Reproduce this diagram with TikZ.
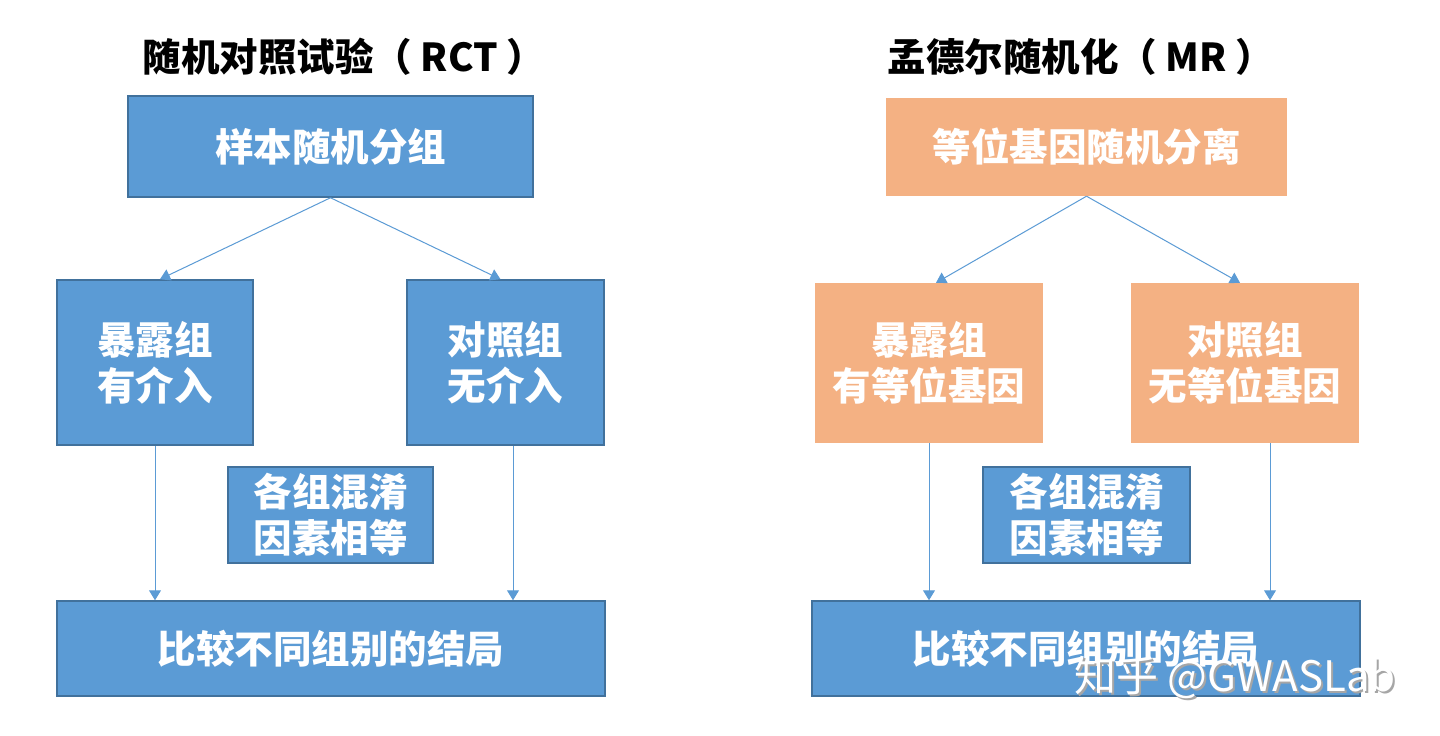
\documentclass[tikz,border=0pt]{standalone}
\usepackage{fontspec}
\newfontfamily\cjk{Noto Sans CJK SC}
\usetikzlibrary{arrows.meta,calc}

\definecolor{boxblue}{HTML}{5B9BD5}
\definecolor{edgeblue}{HTML}{41719C}
\definecolor{boxorange}{HTML}{F4B183}
\definecolor{arrowblue}{HTML}{5B9BD5}

\tikzset{
  boxtext/.style={text=white, align=center, inner sep=0pt,
    font=\cjk\bfseries\fontsize{38.5}{46}\selectfont},
  bluebox/.style={boxtext, draw=edgeblue, line width=1.5pt, fill=boxblue},
  orangebox/.style={boxtext, fill=boxorange},
  heading/.style={font=\cjk\bfseries\fontsize{38.5}{46}\selectfont, text=black},
  arr/.style={draw=arrowblue, line width=1pt, -{Triangle[width=12pt,length=10pt]}},
}

\begin{document}
\begin{tikzpicture}[x=1pt,y=-1pt]
\fill[white] (0,0) rectangle (1440,736);
\useasboundingbox (0,0) rectangle (1440,736);

% left: randomised controlled trial
\node[heading] (rcttitle) at (344,57) {随机对照试验（ RCT ）};
\node[bluebox, minimum width=405pt, minimum height=101pt] (sample) at (330.5,146.5) {样本随机分组};
\node[bluebox, minimum width=196pt, minimum height=165pt] (expo) at (155,362.5) {暴露组\\有介入};
\node[bluebox, minimum width=197pt, minimum height=165pt] (ctrl) at (505.5,362.5) {对照组\\无介入};
\node[bluebox, minimum width=205pt, minimum height=96pt] (conf) at (330.5,515) {各组混淆\\因素相等};
\node[bluebox, minimum width=548pt, minimum height=95pt] (result) at (331,648.5) {比较不同组别的结局};

\draw[arr] (sample.south) -- ([xshift=5pt]expo.north);
\draw[arr] (sample.south) -- ([xshift=-5pt]ctrl.north);
\draw[arr] (expo.south) -- (expo.south |- result.north);
\draw[arr] ([xshift=7.5pt]ctrl.south) -- ([xshift=7.5pt]ctrl.south |- result.north);

% right: mendelian randomisation
\node[heading] (mrtitle) at (1081,57) {孟德尔随机化（ MR ）};
\node[orangebox, minimum width=401pt, minimum height=98pt] (allele) at (1086.5,147) {等位基因随机分离};
\node[orangebox, minimum width=228pt, minimum height=160pt] (mrexpo) at (929,363) {暴露组\\有等位基因};
\node[orangebox, minimum width=228pt, minimum height=160pt] (mrctrl) at (1245,363) {对照组\\无等位基因};
\node[bluebox, minimum width=207pt, minimum height=96pt] (mrconf) at (1086.5,515) {各组混淆\\因素相等};
\node[bluebox, minimum width=548pt, minimum height=95pt] (mrresult) at (1086,648.5) {比较不同组别的结局};

\draw[arr] (allele.south) -- ([xshift=7pt]mrexpo.north);
\draw[arr] (allele.south) -- ([xshift=-5pt]mrctrl.north);
\draw[arr] (mrexpo.south) -- (mrexpo.south |- mrresult.north);
\draw[arr] ([xshift=25pt]mrctrl.south) -- ([xshift=25pt]mrctrl.south |- mrresult.north);

% watermark
\node[text=gray!70, font=\cjk\fontsize{42}{46}\selectfont] (markshadow) at (1237,679) {知乎 @GWASLab};
\node[text=white, font=\cjk\fontsize{42}{46}\selectfont] (mark) at (1235,677) {知乎 @GWASLab};
\end{tikzpicture}
\end{document}
